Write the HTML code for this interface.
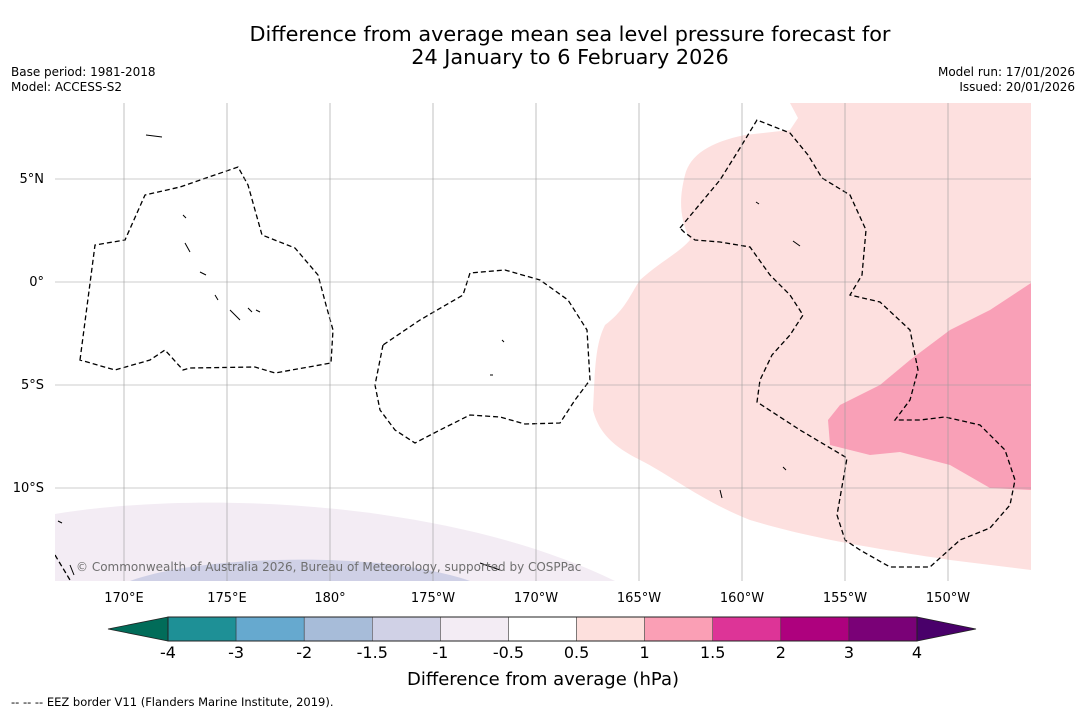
<!DOCTYPE html>
<html><head><meta charset="utf-8"><style>
body{margin:0;background:#fff;font-family:"Liberation Sans","DejaVu Sans",sans-serif;}
</style></head><body>
<svg id="chart" width="1085" height="713" xmlns="http://www.w3.org/2000/svg" font-family="DejaVu Sans, Liberation Sans, sans-serif">
<text x="570" y="41" font-size="20.8" text-anchor="middle">Difference from average mean sea level pressure forecast for</text>
<text x="570" y="64" font-size="20.8" text-anchor="middle">24 January to 6 February 2026</text>
<text x="11" y="76" font-size="12">Base period: 1981-2018</text>
<text x="11" y="91" font-size="12">Model: ACCESS-S2</text>
<text x="1075" y="76" font-size="12" text-anchor="end">Model run: 17/01/2026</text>
<text x="1075" y="91" font-size="12" text-anchor="end">Issued: 20/01/2026</text>
<defs><clipPath id="mapclip"><rect x="55" y="103" width="976" height="478"/></clipPath></defs>
<g id="map" clip-path="url(#mapclip)">
<path fill="#f3ecf4" d="M55,514 C200,490 450,500 615,581 L55,581 Z"/>
<path fill="#cfd0e6" d="M130,581 C200,555 380,550 470,581 Z"/>
<path fill="#fde0df" d="M790,103 L798,118 L790,130 L745,135 C710,142 690,155 685,175 C680,195 678,215 690,240 C680,252 660,262 640,280 C630,295 625,310 605,325 C595,345 595,370 593,410 C598,430 610,445 640,460 C670,475 700,500 750,520 C800,535 850,545 950,560 L1031,570 L1031,103 Z"/>
<path fill="#f9a0b7" d="M1031,283 L990,310 L950,330 L910,360 L880,385 L840,405 L828,420 L830,445 L870,455 L900,452 L950,465 L990,488 L1031,490 Z"/>
<path fill="none" stroke="#000" stroke-width="1.3" stroke-dasharray="5,3" d="M80,360 L95,245 L125,240 L145,195 L180,187 L238,167 L248,185 L262,235 L295,248 L318,275 L326,305 L333,330 L331,363 L275,373 L255,367 L190,368 L183,370 L165,350 L150,360 L115,370 Z"/>
<path fill="none" stroke="#000" stroke-width="1.3" stroke-dasharray="5,3" d="M383,345 L375,385 L380,410 L395,430 L415,443 L440,430 L470,415 L500,417 L525,424 L560,423 L575,400 L590,380 L587,330 L568,300 L540,280 L505,270 L470,273 L463,295 L420,320 Z"/>
<path fill="none" stroke="#000" stroke-width="1.3" stroke-dasharray="5,3" d="M680,228 L695,210 L720,180 L740,148 L757,120 L790,133 L808,155 L822,178 L850,195 L866,230 L862,275 L850,295 L880,302 L910,330 L918,370 L910,400 L895,420 L920,420 L945,417 L980,425 L1005,450 L1015,480 L1010,505 L990,528 L960,540 L930,567 L890,567 L860,550 L845,540 L837,515 L847,458 L800,430 L757,402 L760,380 L772,355 L790,335 L803,315 L790,295 L770,275 L750,247 L720,242 L695,240 L684,232 Z"/>
<path fill="none" stroke="#000" stroke-width="1.3" stroke-dasharray="5,3" d="M55,555 L70,580"/>
<g id="grid"></g>
<g fill="none" stroke="#000" stroke-width="1">
<path d="M146,135 L162,137 M183,215 L186,218 M185,243 L190,252 M200,272 L206,275 M215,295 L218,300 M230,310 L240,320 M248,308 L252,312 M256,310 L260,312 M502,340 L504,342 M490,375 L493,375 M756,202 L759,204 M793,241 L800,246 M783,467 L786,470 M720,490 L722,498 M480,563 L500,570 M58,521 L62,523 M70,565 L74,575"/>
</g>
</g>
<text x="76" y="571" font-size="12" fill="#6f6f6f">© Commonwealth of Australia 2026, Bureau of Meteorology, supported by COSPPac</text>
<g id="xlabels"></g>
<g id="ylabels"></g>
<g id="colorbar"></g>
<text x="543" y="685" font-size="18" text-anchor="middle">Difference from average (hPa)</text>
<text x="11" y="706" font-size="11.5">--  --  -- EEZ border V11 (Flanders Marine Institute, 2019).</text>
</svg>
<script>
const lonTicks=[170,175,180,-175,-170,-165,-160,-155,-150];
const lonLabels=["170°E","175°E","180°","175°W","170°W","165°W","160°W","155°W","150°W"];
const latTicks=[5,0,-5,-10];
const latLabels=["5°N","0°","5°S","10°S"];
const cbLevels=["-4","-3","-2","-1.5","-1","-0.5","0.5","1","1.5","2","3","4"];
const cbColors=["#1e9096","#66a9cf","#a7bcd9","#d0d1e6","#f3ecf4","#ffffff","#fde0dd","#fa9fb5","#dd3497","#ae017e","#7a0177"];
const extLow="#016c59", extHigh="#49006a";
const NS="http://www.w3.org/2000/svg";
function x(lon){let l=lon<0?lon+360:lon;return 124+(l-170)*20.6;}
function y(lat){return 282-lat*20.6;}
function mk(tag,attrs,parent){const e=document.createElementNS(NS,tag);for(const k in attrs)e.setAttribute(k,attrs[k]);parent.appendChild(e);return e;}
const grid=document.getElementById('grid');
lonTicks.forEach((t,i)=>{
 const l=mk('line',{x1:x(t),x2:x(t),y1:103,y2:581,stroke:'#999','stroke-width':0.6},grid);
 
 
 const tx=mk('text',{x:x(t),y:602,'font-size':13,'text-anchor':'middle'},document.getElementById('xlabels'));
 tx.textContent=lonLabels[i];
 
 
});
latTicks.forEach((t,i)=>{
 const l=mk('line',{x1:55,x2:1031,y1:y(t),y2:y(t),stroke:'#999','stroke-width':0.6},grid);
 
 
 const tx=mk('text',{x:44,y:y(t)+4,'font-size':13,'text-anchor':'end'},document.getElementById('ylabels'));
 tx.textContent=latLabels[i];
 
 
});
const cb=document.getElementById('colorbar');
const cx0=168,cx1=917,cy0=617,cy1=641,n=cbColors.length,w=(cx1-cx0)/n;
const el=mk('polygon',{points:`${cx0},${cy0} 108,${(cy0+cy1)/2} ${cx0},${cy1}`,fill:extLow,stroke:'#222','stroke-width':0.8},cb);


const eh=mk('polygon',{points:`${cx1},${cy0} 976,${(cy0+cy1)/2} ${cx1},${cy1}`,fill:extHigh,stroke:'#222','stroke-width':0.8},cb);


cbColors.forEach((c,i)=>{
 const r=mk('rect',{x:cx0+i*w,y:cy0,width:w,height:cy1-cy0,fill:c,stroke:'#333','stroke-width':0.5},cb);
 
 
});
mk('rect',{x:cx0,y:cy0,width:cx1-cx0,height:cy1-cy0,fill:'none',stroke:'#222','stroke-width':1},cb);
cbLevels.forEach((v,i)=>{
 const t=mk('text',{x:cx0+i*w,y:658,'font-size':16,'text-anchor':'middle'},cb);
 t.textContent=v;
 
 
});
</script>
</body></html>
